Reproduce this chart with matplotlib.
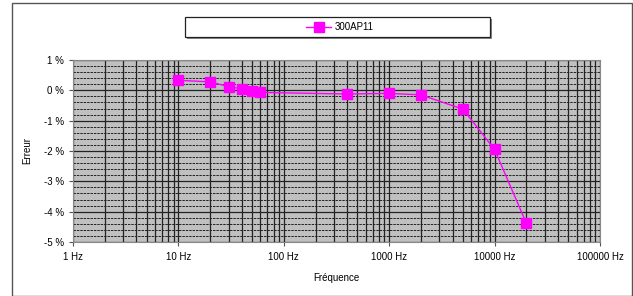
import numpy as np
import matplotlib.pyplot as plt
from matplotlib.patches import Rectangle
from matplotlib.ticker import FixedLocator, LogLocator, NullFormatter

plt.rcParams['font.family'] = ['Liberation Sans', 'DejaVu Sans']

freq = [10, 20, 30, 40, 50, 60, 400, 1000, 2000, 5000, 10000, 20000]
erreur = [0.33, 0.28, 0.12, 0.05, -0.02, -0.07, -0.12, -0.10, -0.15, -0.62, -1.95, -4.38]
serie = "300AP11"
x_ticks = [1, 10, 100, 1000, 10000, 100000]
x_labels = ["1 Hz", "10 Hz", "100 Hz", "1000 Hz", "10000 Hz", "100000 Hz"]
y_ticks = [1, 0, -1, -2, -3, -4, -5]
y_labels = ["1 %", "0 %", "-1 %", "-2 %", "-3 %", "-4 %", "-5 %"]

fig = plt.figure(figsize=(6.33, 2.96), dpi=100)
ax = fig.add_axes([73/633, 1 - 242/296, (600-73)/633, (242-60)/296])
ax.set_facecolor('#c0c0c0')

# outer frame of the chart
fig.patches.append(Rectangle((12/633, 0.0), 620/633, 293/296, transform=fig.transFigure,
                             fill=False, edgecolor='#555555', linewidth=1.0))

ax.plot(freq, erreur, color='#ff00ff', marker='s', markersize=6.5, linewidth=1, label=serie)
ax.set_xscale('log')
ax.set_xlim(1, 100000)
ax.set_ylim(-5, 1)

ax.set_xticks(x_ticks)
ax.set_xticklabels(x_labels)
ax.xaxis.set_minor_locator(LogLocator(base=10, subs=np.arange(2, 10)))
ax.xaxis.set_minor_formatter(NullFormatter())
ax.set_yticks(y_ticks)
ax.set_yticklabels(y_labels)
ax.yaxis.set_minor_locator(FixedLocator(np.arange(-5, 1.01, 0.2)))

ax.grid(which='major', axis='both', color='#222222', linewidth=0.9, linestyle='-')
ax.grid(which='minor', axis='x', color='#222222', linewidth=0.9, linestyle='-')
ax.grid(which='minor', axis='y', color='#222222', linewidth=0.7, linestyle=(0, (2.5, 1)))
ax.set_axisbelow(True)

ax.tick_params(axis='both', which='major', labelsize=7, length=3, color='#555555')
ax.tick_params(axis='both', which='minor', length=0)
ax.tick_params(axis='x', pad=4)
for s in ax.spines.values():
    s.set_color('#888888')

ax.set_xlabel("Fréquence", fontsize=7, labelpad=8)
ax.set_ylabel("Erreur", fontsize=7, labelpad=8)

# legend box: wide frame with shadow, entry centred in it
fig.patches.append(Rectangle((187/633, 1 - 39/296), 305/633, 20/296, transform=fig.transFigure,
                             facecolor='#888888', edgecolor='none', zorder=1))
fig.patches.append(Rectangle((185/633, 1 - 37/296), 305/633, 20/296, transform=fig.transFigure,
                             facecolor='white', edgecolor='#222222', linewidth=0.9, zorder=2))
leg = fig.legend(loc='center', bbox_to_anchor=(340/633, 1 - 27/296),
                 frameon=False, fontsize=7, handlelength=2.6, handletextpad=0.4)
leg.set_zorder(3)

fig.savefig('out.png', dpi=100)
